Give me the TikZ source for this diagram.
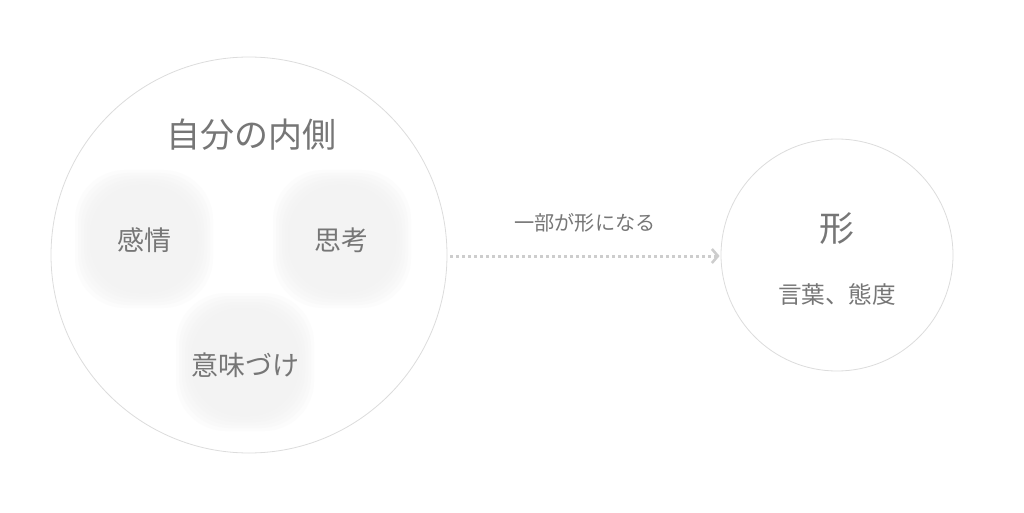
\documentclass[tikz,border=0pt]{standalone}
\usepackage{fontspec}
\setmainfont{Noto Sans CJK JP}
\usepackage{xcolor}
\usepackage{tikz}
\usetikzlibrary{arrows.meta,positioning}

\definecolor{inktext}{HTML}{767676}
\definecolor{ringline}{HTML}{DCDCDC}
\definecolor{dotline}{HTML}{CDCDCD}
\definecolor{blobfill}{HTML}{F0F0F0}

\tikzset{
    ring/.style={
        circle,
        draw=ringline,
        line width=0.8pt,
        fill=white
    },
    blob/.style={
        rectangle,
        rounded corners=50pt,
        fill=blobfill,
        fill opacity=0.2,
        minimum size=#1
    },
    label/.style={
        text=inktext,
        font=\fontsize{#1}{#1}\selectfont
    }
}

\begin{document}
\begin{tikzpicture}[x=1pt,y=1pt]
                \useasboundingbox (0,0) rectangle (1024,512);

                % the two circles
                \node[ring, minimum size=396pt] (inner) at (249,257) {};
                \node[ring, minimum size=232pt] (form) at (837,257) {};

                % soft patches inside the big circle
                \foreach \w in {138,132,126,120,114,108} {
                    \node[blob=\w pt] at (144,273) {};
                    \node[blob=\w pt] at (342,273) {};
                    \node[blob=\w pt] at (245,150) {};
                }

                \node[label=34] (title) at (251,377) {自分の内側};
                \node[label=27] (feel) at (144,272) {感情};
                \node[label=27] (think) at (341,272) {思考};
                \node[label=27] (mean) at (245,147) {意味づけ};

                \node[label=35] (shape) at (837,283) {形};
                \node[label=23.6] (words) at (837,218) {言葉、態度};

                % dotted arrow
                \draw[
                    draw=dotline,
                    line width=3pt,
                    dash pattern=on 3pt off 3pt,
                    -{Straight Barb[length=6pt,width=14pt,line width=2.6pt]}
                    ] (inner.east) ++(3,-1) -- ([xshift=-1pt,yshift=-1pt]form.west)
                    node[pos=.5, above=19pt, label=20.2] (part) {一部が形になる};
\end{tikzpicture}
\end{document}
